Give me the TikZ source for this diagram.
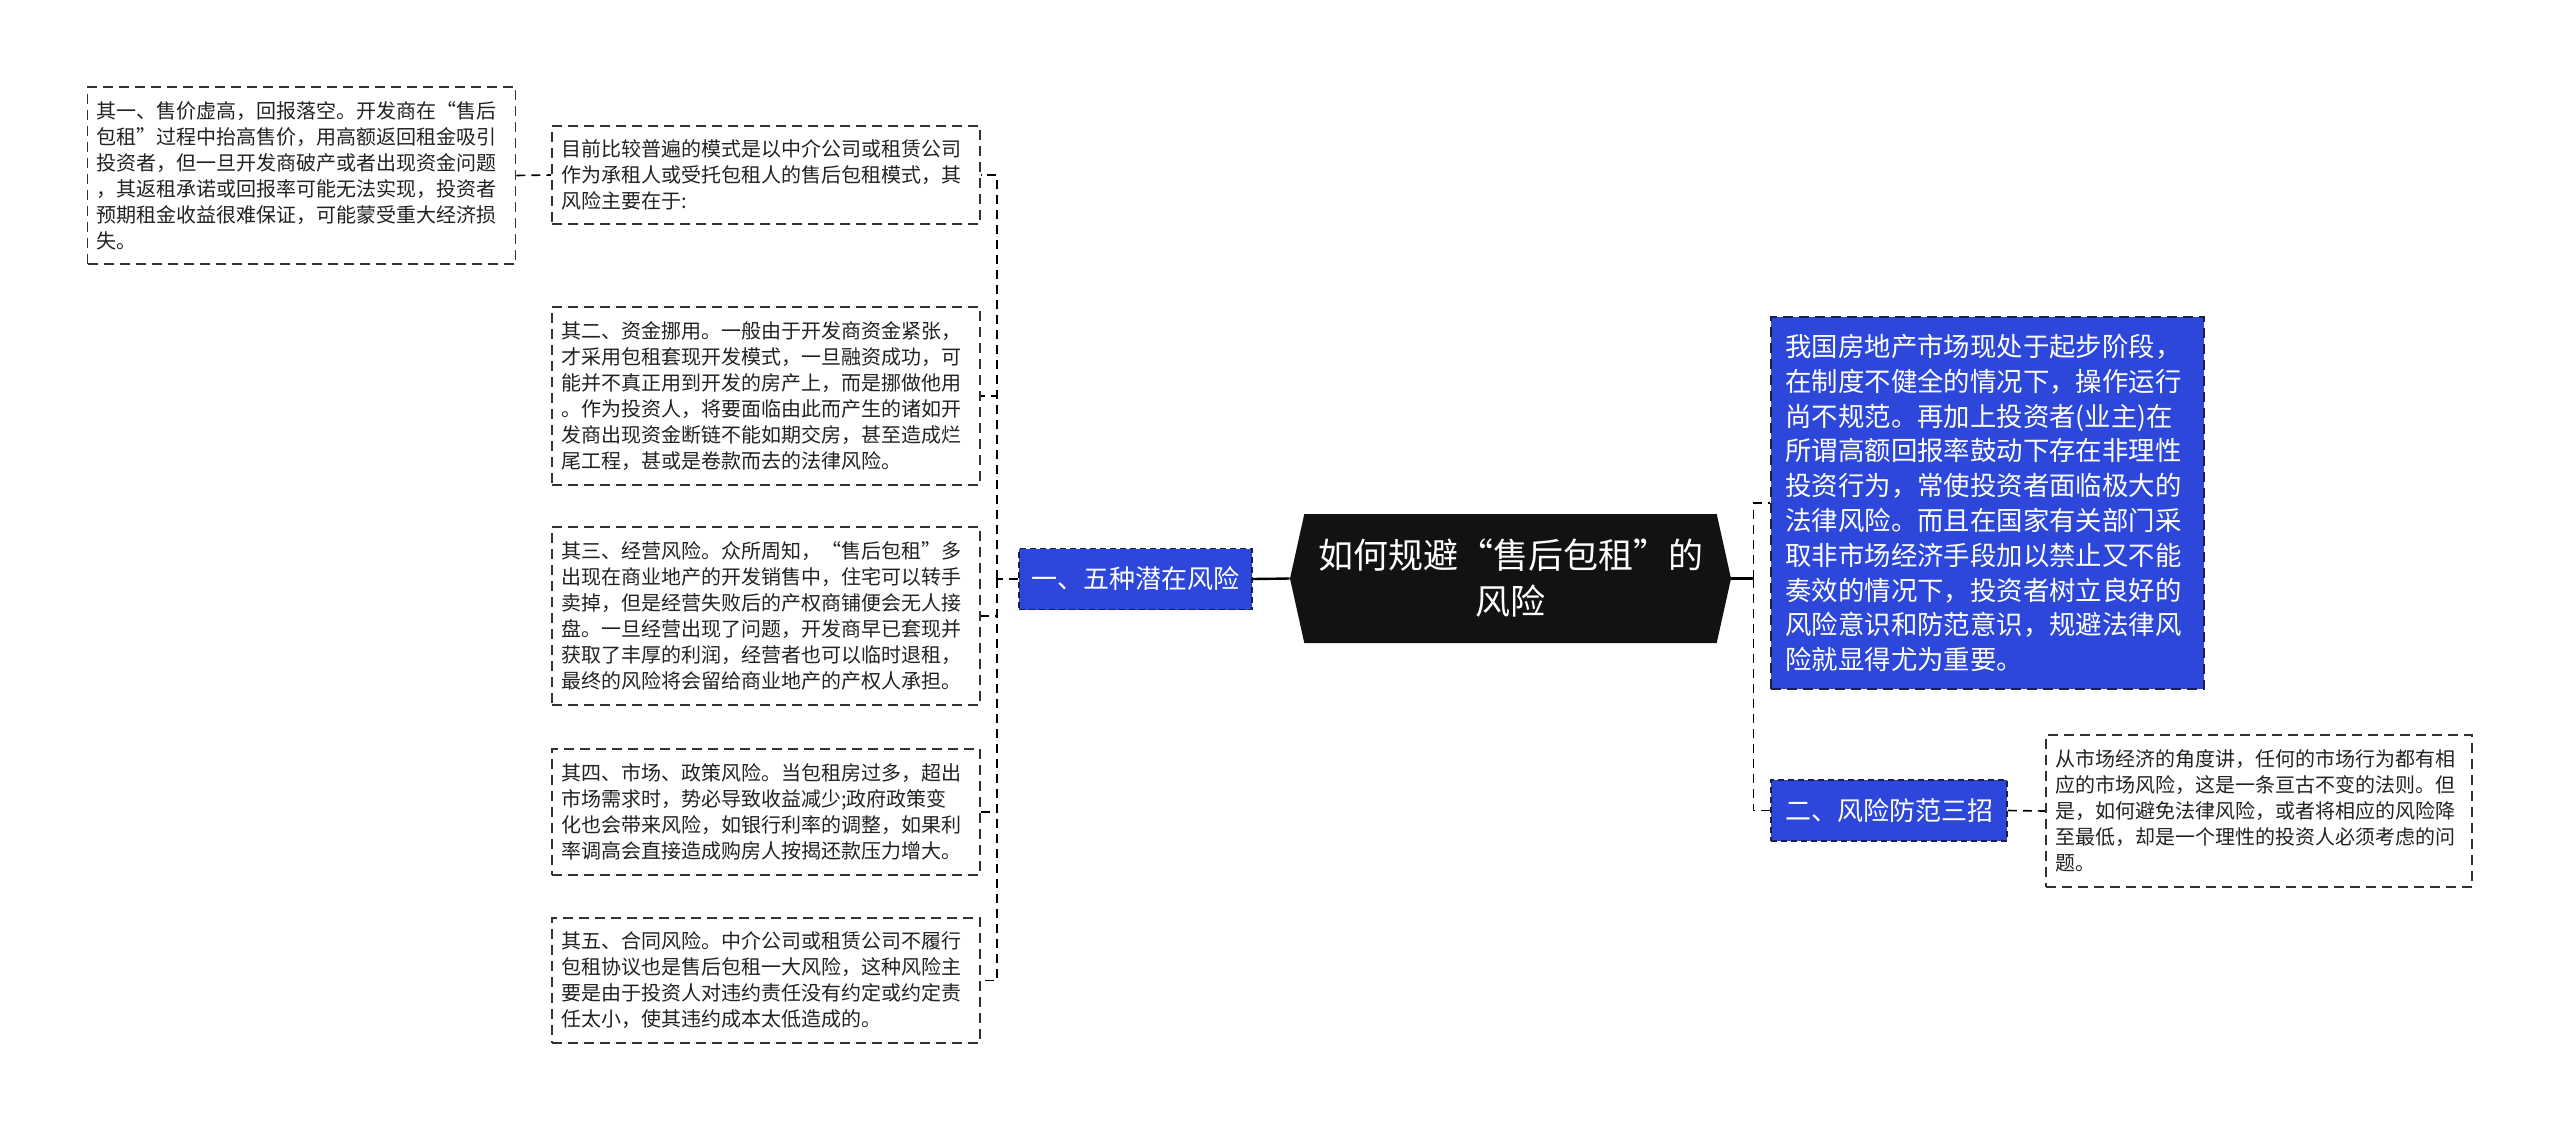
\documentclass[tikz,border=0pt]{standalone}
\usepackage{fontspec}
\setmainfont{Noto Sans CJK SC}
\usepackage{tikz}
\usepackage{xcolor}
\usetikzlibrary{shapes.symbols,calc}
\definecolor{Ink}{HTML}{222222}
\definecolor{Blue}{HTML}{2C47D9}
\definecolor{Edge}{HTML}{333333}
\definecolor{Navy}{HTML}{1A1F4A}

\begin{document}
\begin{tikzpicture}[x=0.5pt,y=-0.5pt,
  note/.style={draw=Edge,dash pattern=on 5pt off 3pt,line width=0.8pt,fill=white,
    text=Ink,align=left,text width=205pt,inner xsep=4.5pt,inner ysep=5pt,
    font=\fontsize{10}{13}\selectfont},
  bluenote/.style={note,fill=Blue,draw=Navy,text=white,text width=202pt,
    inner xsep=7.25pt,font=\fontsize{13.2}{17.4}\selectfont},
  branch/.style={draw=Navy,dash pattern=on 3pt off 2pt,line width=0.8pt,fill=Blue,
    text=white,minimum height=30.5pt,font=\fontsize{13}{16}\selectfont},
  root/.style={shape=signal,signal to=east and west,signal pointer angle=155,
    fill=black!93,text=white,align=center,minimum width=220.5pt,minimum height=64.5pt,
    inner sep=2pt,font=\fontsize{17.5}{23}\selectfont},
  solidlink/.style={draw=black,line width=1.2pt},
  dashlink/.style={draw=black,line width=0.8pt,dash pattern=on 4.5pt off 3pt}]
  \fill[white] (0,0) rectangle (2560,1131);
  \useasboundingbox (0,0) rectangle (2560,1131);

  % centre and branches
  \node[root] (root) at (1510.5,578.5) {如何规避“售后包租”的\\风险};
  \node[branch,minimum width=116.5pt] (risk) at (1135.5,579) {一、五种潜在风险};
  \node[branch,minimum width=118pt] (guard) at (1889,810.5) {二、风险防范三招};

  % left side notes
  \node[note,minimum height=49pt] (mode) at (766,175) {目前比较普遍的模式是以中介公司或租赁公司\\
    作为承租人或受托包租人的售后包租模式，其\\风险主要在于:};
  \node[note,minimum height=88.5pt] (one) at (301.5,175.5) {其一、售价虚高，回报落空。开发商在“售后\\
    包租”过程中抬高售价，用高额返回租金吸引\\投资者，但一旦开发商破产或者出现资金问题\\
    ，其返租承诺或回报率可能无法实现，投资者\\预期租金收益很难保证，可能蒙受重大经济损\\失。};
  \node[note,minimum height=89pt] (two) at (766,396) {其二、资金挪用。一般由于开发商资金紧张，\\
    才采用包租套现开发模式，一旦融资成功，可\\能并不真正用到开发的房产上，而是挪做他用\\
    。作为投资人，将要面临由此而产生的诸如开\\发商出现资金断链不能如期交房，甚至造成烂\\
    尾工程，甚或是卷款而去的法律风险。};
  \node[note,minimum height=89pt] (three) at (766,616) {其三、经营风险。众所周知，“售后包租”多\\
    出现在商业地产的开发销售中，住宅可以转手\\卖掉，但是经营失败后的产权商铺便会无人接\\
    盘。一旦经营出现了问题，开发商早已套现并\\获取了丰厚的利润，经营者也可以临时退租，\\
    最终的风险将会留给商业地产的产权人承担。};
  \node[note,minimum height=63pt] (four) at (766,812) {其四、市场、政策风险。当包租房过多，超出\\
    市场需求时，势必导致收益减少;政府政策变\\化也会带来风险，如银行利率的调整，如果利\\
    率调高会直接造成购房人按揭还款压力增大。};
  \node[note,minimum height=62.5pt] (five) at (766,980.5) {其五、合同风险。中介公司或租赁公司不履行\\
    包租协议也是售后包租一大风险，这种风险主\\要是由于投资人对违约责任没有约定或约定责\\
    任太小，使其违约成本太低造成的。};

  % right side notes
  \node[bluenote,minimum height=186pt] (law) at (1987.5,503) {我国房地产市场现处于起步阶段，\\
    在制度不健全的情况下，操作运行\\尚不规范。再加上投资者(业主)在\\所谓高额回报率鼓动下存在非理性\\
    投资行为，常使投资者面临极大的\\法律风险。而且在国家有关部门采\\取非市场经济手段加以禁止又不能\\
    奏效的情况下，投资者树立良好的\\风险意识和防范意识，规避法律风\\险就显得尤为重要。};
  \node[note,text width=204pt,minimum height=76pt] (market) at (2259,811) {从市场经济的角度讲，任何的市场行为都有相\\
    应的市场风险，这是一条亘古不变的法则。但\\是，如何避免法律风险，或者将相应的风险降\\
    至最低，却是一个理性的投资人必须考虑的问\\题。};

  % connectors
  \draw[solidlink] (root.west) -- (risk.east);
  \draw[solidlink] (root.east) -- ++(22,0) coordinate (rbus);
  \coordinate (lbus) at ($(risk.west)+(-21,0)$);
  \draw[dashlink] (risk.west) -- (lbus);
  \foreach \n in {mode,two,three,four,five}
    \draw[dashlink] (lbus) |- (\n.east);
  \draw[dashlink] (one.east) -- (mode.west);
  \draw[dashlink] (rbus) |- (law.west);
  \draw[dashlink] (rbus) |- (guard.west);
  \draw[dashlink] (guard.east) -- (market.west);
\end{tikzpicture}
\end{document}
